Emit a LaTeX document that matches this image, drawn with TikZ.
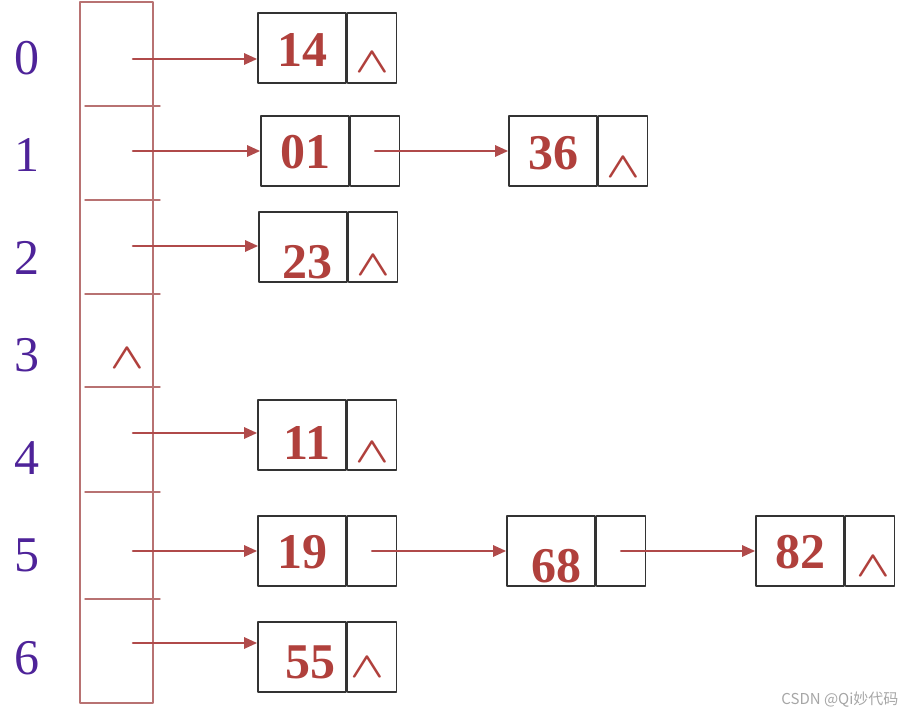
\documentclass[tikz,border=0pt]{standalone}
\usepackage{fontspec}
\setmainfont{Liberation Serif}
\newfontfamily\cjkfont{Noto Sans CJK SC}
\usetikzlibrary{arrows.meta,positioning}
\definecolor{HashRed}{HTML}{B0403C}
\definecolor{HashArrow}{HTML}{B04A4A}
\definecolor{HashColumn}{HTML}{B87272}
\definecolor{HashPurple}{HTML}{4E2399}
\definecolor{HashGray}{HTML}{333333}
\newcommand{\nullsym}[2][0pt]{\hspace*{#1}\raisebox{#2}{\scalebox{4.4}[3.6]{\boldmath$\wedge$}}}
\newcommand{\keyat}[3][0pt]{\hspace*{#1}\raisebox{#2}{#3}}

\begin{document}
\begin{tikzpicture}[x=1pt,y=-1pt,line cap=round,line join=round,
  datacell/.style={draw=HashGray,line width=1.6pt,minimum width=88pt,minimum height=70pt,inner sep=0pt,
    text height=33pt,text depth=0pt,text=HashRed,font=\fontsize{50}{50}\selectfont\bfseries},
  ptrcell/.style={draw=HashGray,line width=1.6pt,minimum width=49pt,minimum height=70pt,inner sep=0pt,
    text height=20pt,text depth=0pt,text=HashRed},
  idx/.style={text=HashPurple,font=\fontsize{50}{50}\selectfont},
  link/.style={HashArrow,line width=2.6pt,-{Triangle[length=13pt,width=11pt]}}]
  \useasboundingbox (0,0) rectangle (906,720);
  % bucket column
  \node[draw=HashColumn,line width=1.4pt,minimum width=73pt,minimum height=701pt,inner sep=0pt] (table) at (116.5,352.5) {};
  \foreach \y in {106,200,294,387,492,599} \draw[HashColumn,line width=1.4pt] (85,\y) -- (160,\y);
  \foreach \i/\y in {0/58,1/155,2/258,3/355,4/458,5/555,6/658} \node[idx] (i\i) at (27,\y) {\i};
  \node[text=HashRed,inner sep=0pt] (nil3) at (127,358) {\nullsym{0pt}};
  % heads of the chains
  \foreach \i/\y in {0/59,1/151,2/246,4/433,5/551,6/643} \coordinate (h\i) at (133,\y);
  % chain nodes
  \node[datacell] (d14) at (302,48) {\keyat{-2pt}{14}};
  \node[ptrcell,right=0pt of d14] (p14) {\nullsym{-14pt}};
  \node[datacell] (d01) at (305,151) {\keyat{-1pt}{01}};
  \node[ptrcell,right=0pt of d01] (p01) {};
  \node[datacell] (d36) at (553,151) {\keyat{-2pt}{36}};
  \node[ptrcell,right=0pt of d36] (p36) {\nullsym{-17pt}};
  \node[datacell] (d23) at (303,247) {\keyat[8pt]{-15pt}{23}};
  \node[ptrcell,right=0pt of d23] (p23) {\nullsym{-18pt}};
  \node[datacell] (d11) at (302,435) {\keyat[10pt]{-8pt}{11}};
  \node[ptrcell,right=0pt of d11] (p11) {\nullsym{-17pt}};
  \node[datacell] (d19) at (302,551) {\keyat{-1pt}{19}};
  \node[ptrcell,right=0pt of d19] (p19) {};
  \node[datacell] (d68) at (551,551) {\keyat[10pt]{-15pt}{68}};
  \node[ptrcell,right=0pt of d68] (p68) {};
  \node[datacell] (d82) at (800,551) {\keyat{-1pt}{82}};
  \node[ptrcell,right=0pt of d82] (p82) {\nullsym[6pt]{-15pt}};
  \node[datacell] (d55) at (302,657) {\keyat[16pt]{-5pt}{55}};
  \node[ptrcell,right=0pt of d55] (p55) {\nullsym[-10pt]{-10pt}};
  % links
  \draw[link] (h0) -- (h0 -| d14.west);
  \draw[link] (h1) -- (h1 -| d01.west);
  \draw[link] (h2) -- (h2 -| d23.west);
  \draw[link] (h4) -- (h4 -| d11.west);
  \draw[link] (h5) -- (h5 -| d19.west);
  \draw[link] (h6) -- (h6 -| d55.west);
  \draw[link] (p01.center) -- (d36.west);
  \draw[link] (p19.center) -- (d68.west);
  \draw[link] (p68.center) -- (d82.west);
  \node[text=black!35,font=\cjkfont\fontsize{15}{15}\selectfont,anchor=east] (mark) at (902,700) {CSDN @Qi妙代码};
\end{tikzpicture}
\end{document}
